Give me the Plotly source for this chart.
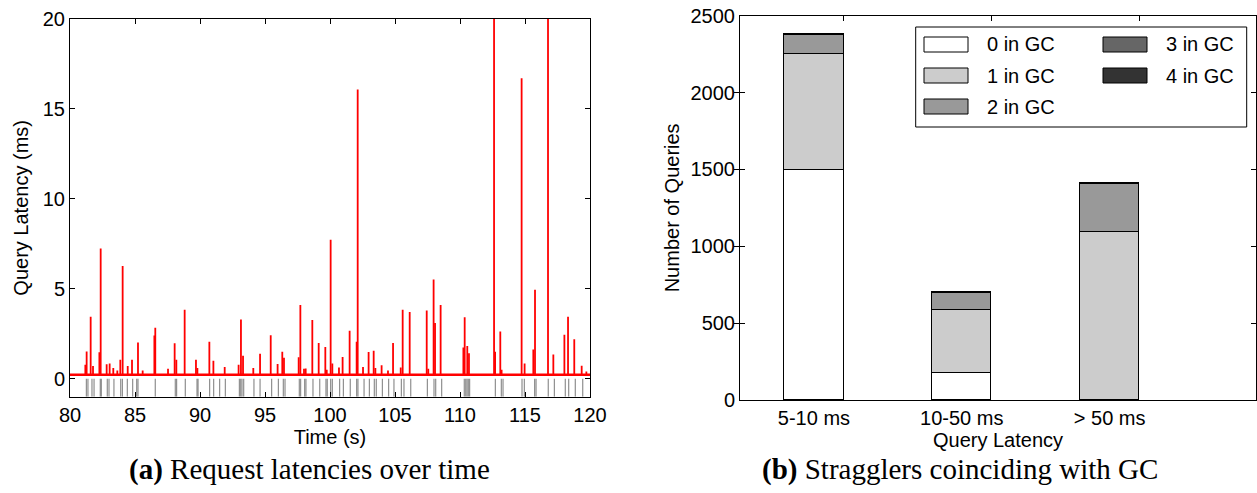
import plotly.graph_objects as go

W, H = 1257, 493

# ---------------- Left panel data: request latencies over time ----------------
spike_time_s = [81.18, 81.28, 81.59, 81.77, 82.26, 82.36, 82.82, 83.05, 83.33, 83.64,
                83.87, 84.05, 84.44, 84.77, 85.23, 85.59, 86.49, 86.56, 87.54, 88.05,
                88.18, 88.82, 89.69, 89.80,
                90.72, 91.03, 91.90, 92.97, 93.15, 93.31, 94.10, 94.62, 95.44, 95.97,
                96.33, 96.46, 97.59, 97.72, 98.00, 98.13, 98.64, 99.13, 99.64, 99.75,
                100.05, 100.18,
                100.69, 100.97, 101.51, 102.05, 102.13, 102.54, 102.97, 103.36, 103.49,
                103.97, 104.46, 104.85, 105.44, 105.59, 106.13, 107.44, 107.56, 107.97,
                108.08, 108.51,
                110.26, 110.36, 110.56, 110.69, 112.62, 112.70, 113.10, 113.20, 114.74,
                114.97, 115.64, 115.77, 116.77, 117.18, 118.03, 118.31, 118.79, 119.36,
                119.72]
spike_latency_ms = [0.78, 1.52, 3.45, 0.70, 1.47, 7.24, 0.80, 0.85, 0.60, 0.45,
                    1.06, 6.26, 0.70, 1.06, 2.02, 0.45, 2.40, 2.84, 0.55, 1.97,
                    1.06, 3.84, 1.06, 0.60,
                    2.06, 1.00, 0.65, 0.78, 3.29, 1.28, 0.60, 1.39, 2.41, 0.82,
                    1.50, 1.17, 1.20, 4.10, 0.55, 0.57, 3.27, 1.99, 1.76, 0.50,
                    7.73, 0.85,
                    0.63, 1.21, 2.67, 2.06, 16.08, 0.65, 1.49, 1.56, 0.60,
                    0.75, 0.45, 1.99, 0.63, 3.83, 3.71, 3.79, 0.55, 5.52,
                    3.10, 4.10,
                    1.73, 3.42, 1.82, 1.41, 25.0, 1.50, 2.62, 0.50, 16.70,
                    0.85, 1.63, 4.94, 25.0, 1.34, 2.45, 3.45, 2.19, 0.72,
                    0.40]
baseline_latency_ms = 0.22
time_range_s = [80, 120]

gc_time_s = [81.26, 81.38, 81.69, 81.85, 82.33, 82.41, 82.87, 83.00, 83.38, 83.90,
             84.03, 84.41, 84.82, 85.13, 85.23, 86.56, 88.10, 88.20, 88.87, 89.77, 89.85,
             90.74, 91.05, 91.51, 91.95, 93.03, 93.13, 93.23, 93.36, 94.15, 94.62,
             95.51, 96.03, 96.41, 96.54, 97.64, 97.74, 98.05, 98.15, 98.69, 99.21,
             99.69, 99.79, 100.05,
             100.18, 100.74, 101.03, 101.56, 102.05, 102.15, 102.62, 103.03, 103.41,
             103.56, 104.03, 104.51, 104.92, 105.49, 105.69, 106.21, 107.49, 108.00,
             108.13, 108.59,
             110.33, 110.44, 110.54, 110.64, 110.74, 112.72, 113.18, 113.31, 114.77,
             114.95, 115.74, 115.85, 116.79, 117.26, 118.10, 118.36, 118.87, 119.44]
gc_marker_top = 0
gc_marker_bottom = -1

left_xticks = [80, 85, 90, 95, 100, 105, 110, 115, 120]
left_yticks = [0, 5, 10, 15, 20]

# ---------------- Right panel data: stragglers coinciding with GC ----------------
latency_buckets = ["5-10 ms", "10-50 ms", "> 50 ms"]
bucket_pos = [0.5, 1.5, 2.5]
gc_labels = ["0 in GC", "1 in GC", "2 in GC", "3 in GC", "4 in GC"]
queries_0_in_gc = [1500, 175, 5]
queries_1_in_gc = [750, 410, 1092]
queries_2_in_gc = [127, 110, 308]
queries_3_in_gc = [6, 6, 6]
queries_4_in_gc = [2, 2, 2]
gc_colors = ["#ffffff", "#cccccc", "#999999", "#666666", "#333333"]
right_yticks = [0, 500, 1000, 1500, 2000, 2500]

SANS = "Liberation Sans, Arial, Helvetica, sans-serif"
SERIF = "Liberation Serif, Times New Roman, serif"
FS = 20


def px(x):
    return x / W


def py(y):
    return 1 - y / H


fig = go.Figure()

# GC markers (gray vertical ticks below the latency line)
gx, gy = [], []
for t in gc_time_s:
    gx += [t, t, None]
    gy += [gc_marker_top, gc_marker_bottom, None]
fig.add_trace(go.Scatter(x=gx, y=gy, mode="lines", line=dict(color="rgba(95,95,95,0.7)", width=1.2),
                         xaxis="x", yaxis="y", showlegend=False, hoverinfo="skip"))

# baseline latency
fig.add_trace(go.Scatter(x=time_range_s, y=[baseline_latency_ms, baseline_latency_ms], mode="lines",
                         line=dict(color="#ff0000", width=2.5), xaxis="x", yaxis="y", showlegend=False))

# latency spikes
sx, sy = [], []
for t, v in zip(spike_time_s, spike_latency_ms):
    sx += [t, t, None]
    sy += [baseline_latency_ms, v, None]
fig.add_trace(go.Scatter(x=sx, y=sy, mode="lines", line=dict(color="#ff0000", width=1.8),
                         xaxis="x", yaxis="y", showlegend=False))

# stacked bars
series = [queries_0_in_gc, queries_1_in_gc, queries_2_in_gc, queries_3_in_gc, queries_4_in_gc]
for name, vals, col in zip(gc_labels, series, gc_colors):
    fig.add_trace(go.Bar(x=bucket_pos, y=vals, width=0.4, name=name,
                         marker=dict(color=col, line=dict(color="black", width=1)),
                         xaxis="x2", yaxis="y2", showlegend=False))

# dummy trace to activate the top tick axis of the bar chart
fig.add_trace(go.Scatter(x=[None], y=[None], xaxis="x3", yaxis="y2", showlegend=False))

axis_common = dict(showline=True, linecolor="black", linewidth=1, mirror="allticks",
                   ticks="inside", ticklen=5, tickcolor="black", showgrid=False, zeroline=False,
                   automargin=False, tickfont=dict(family=SANS, size=FS, color="black"))
title_font = dict(family=SANS, size=FS, color="black")

fig.update_layout(
    width=W, height=H, autosize=False,
    margin=dict(l=0, r=0, t=0, b=0, pad=0),
    paper_bgcolor="white", plot_bgcolor="white",
    barmode="stack", bargap=0,
    xaxis=dict(domain=[px(70), px(590)], range=time_range_s, tickvals=left_xticks,
               title=dict(text="Time (s)", font=title_font, standoff=2),
               anchor="y", **axis_common),
    yaxis=dict(domain=[py(396.7), py(19)], range=[-1, 20], tickvals=left_yticks,
               title=dict(text="Query Latency (ms)", font=title_font, standoff=8),
               anchor="x", **axis_common),
    xaxis2=dict(domain=[px(740), px(1256)], range=[0, 3.49], tickvals=bucket_pos, ticktext=latency_buckets,
                title=dict(text="Query Latency", font=title_font, standoff=2),
                anchor="y2", showline=True, linecolor="black", linewidth=1, mirror=True, ticks="",
                showgrid=False, zeroline=False, automargin=False,
                tickfont=dict(family=SANS, size=FS, color="black")),
    xaxis3=dict(overlaying="x2", side="top", anchor="y2", range=[0, 3.49],
                tickvals=[p + 0.2 for p in bucket_pos], ticks="inside", ticklen=5, tickcolor="black",
                showticklabels=False, showline=False, showgrid=False, zeroline=False, automargin=False),
    yaxis2=dict(domain=[py(400), py(15.7)], range=[0, 2500], tickvals=right_yticks,
                title=dict(text="Number of Queries", font=title_font, standoff=5),
                anchor="x2", **axis_common),
)

# manual legend (two columns) for the bar chart
shapes = [dict(type="rect", xref="paper", yref="paper", x0=px(915.7), x1=px(1246.7), y0=py(127), y1=py(27),
               line=dict(color="black", width=1), fillcolor="white", layer="above")]
annotations = []
legend_rows = [44.5, 75.5, 106.5, 44.5, 75.5]
legend_sw_x = [924, 924, 924, 1103, 1103]
legend_tx_x = [985, 985, 985, 1164, 1164]
for i, (name, col) in enumerate(zip(gc_labels, gc_colors)):
    yc = legend_rows[i]
    shapes.append(dict(type="rect", xref="paper", yref="paper", x0=px(legend_sw_x[i]), x1=px(legend_sw_x[i] + 44),
                       y0=py(yc + 7.5), y1=py(yc - 7.5), line=dict(color="black", width=1), fillcolor=col,
                       layer="above"))
    annotations.append(dict(x=px(legend_tx_x[i]), y=py(yc), xref="paper", yref="paper", text=name,
                            showarrow=False, xanchor="left", yanchor="middle",
                            font=dict(family=SANS, size=FS, color="black")))

# captions
annotations.append(dict(x=px(309), y=py(469), xref="paper", yref="paper",
                        text="<b>(a)</b> Request latencies over time", showarrow=False,
                        xanchor="center", yanchor="middle", font=dict(family=SERIF, size=29, color="black")))
annotations.append(dict(x=px(960), y=py(469), xref="paper", yref="paper",
                        text="<b>(b)</b> Stragglers coinciding with GC", showarrow=False,
                        xanchor="center", yanchor="middle", font=dict(family=SERIF, size=29, color="black")))

fig.update_layout(shapes=shapes, annotations=annotations)

fig.write_html("out.html", config={"displayModeBar": False},
               post_script="document.body.style.margin='0px';document.body.style.overflow='hidden';")
